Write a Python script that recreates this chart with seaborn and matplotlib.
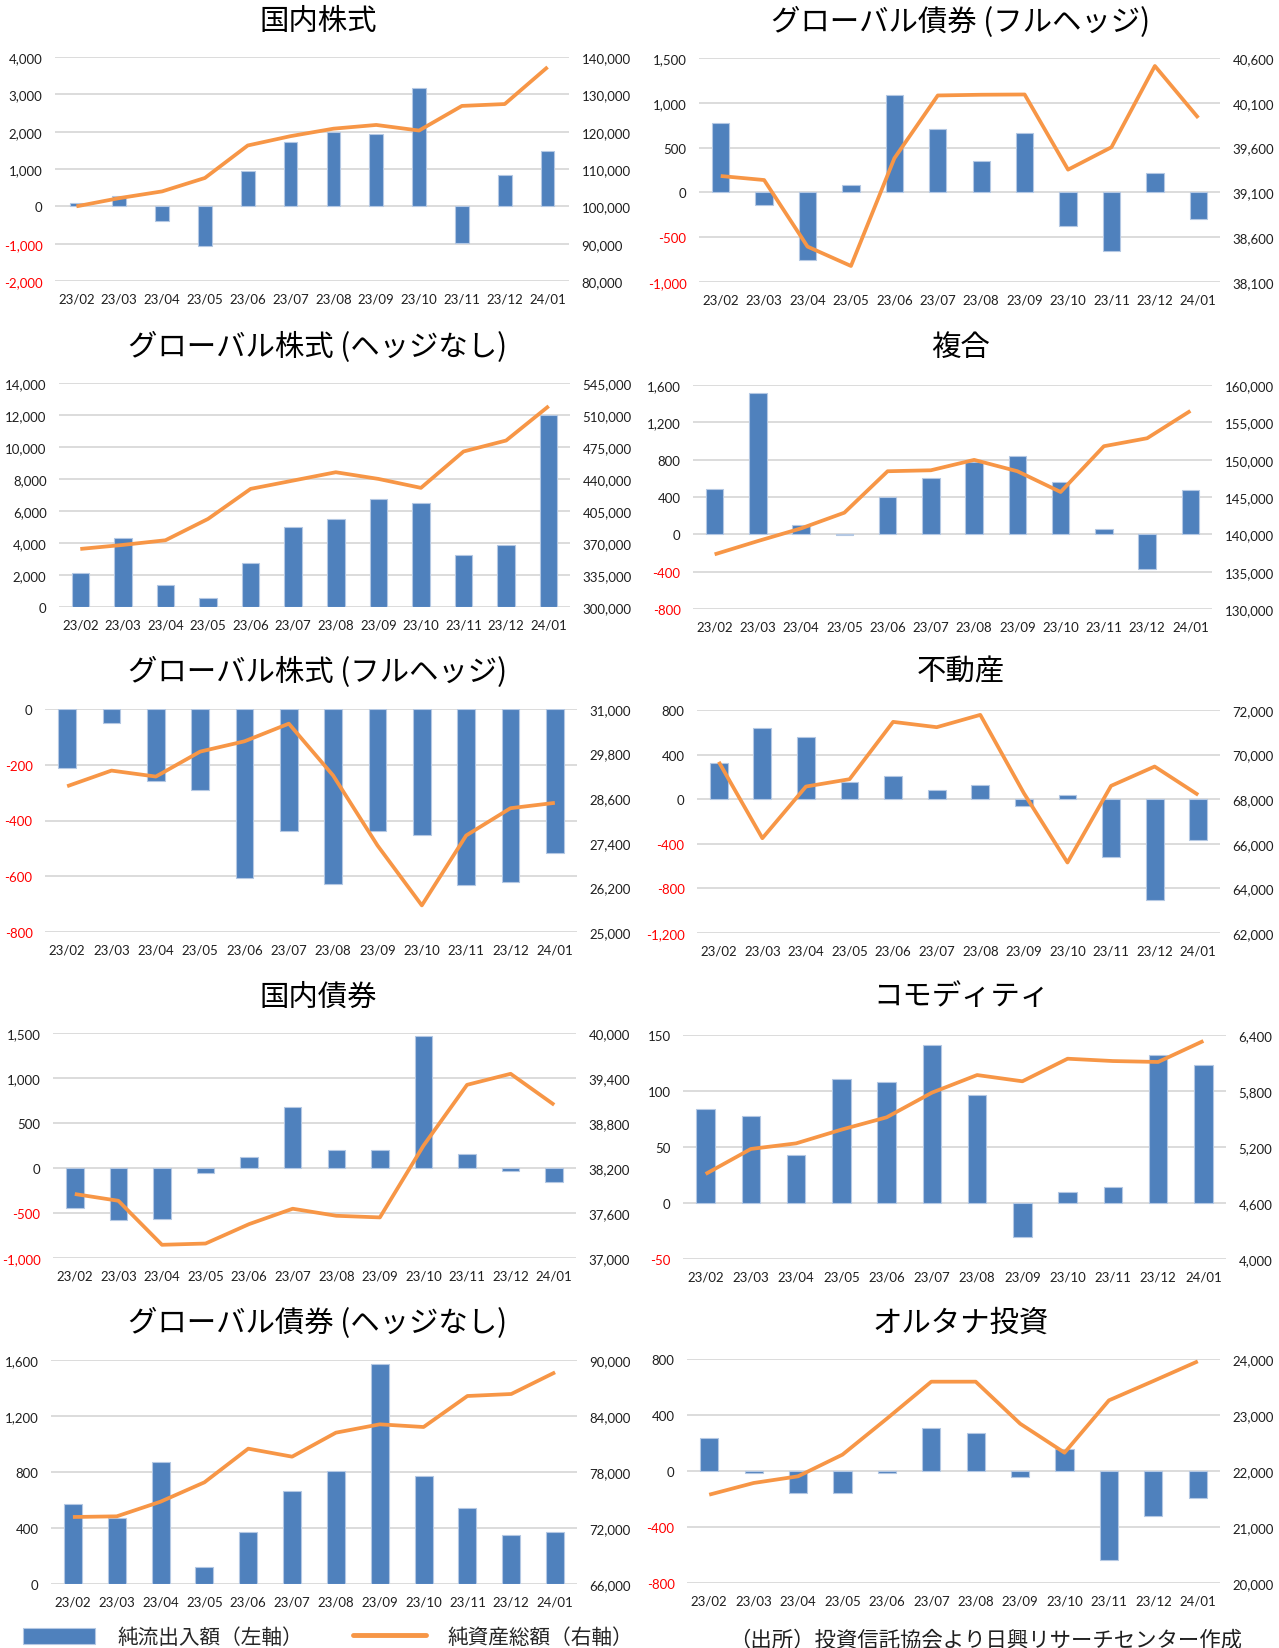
import numpy as np
import pandas as pd
import matplotlib
matplotlib.use("Agg")
import matplotlib.pyplot as plt
import seaborn as sns
from matplotlib.patches import Patch
from matplotlib.lines import Line2D

# ---------------- data ----------------
months = ["23/02", "23/03", "23/04", "23/05", "23/06", "23/07",
          "23/08", "23/09", "23/10", "23/11", "23/12", "24/01"]

title_jp_eq = "国内株式"
flow_jp_eq = [100, 280, -400, -1050, 950, 1730, 1980, 1930, 3160, -980, 830, 1480]
aum_jp_eq = [100000, 102200, 104000, 107600, 116300, 118800, 120800, 121800, 120300, 126900, 127400, 137300]
lt_jp_eq = [-2000, -1000, 0, 1000, 2000, 3000, 4000]
rt_jp_eq = [80000, 90000, 100000, 110000, 120000, 130000, 140000]

title_gb_fh = "グローバル債券 (フルヘッジ)"
flow_gb_fh = [770, -145, -760, 80, 1090, 710, 345, 660, -370, -650, 220, -300]
aum_gb_fh = [39283, 39238, 38495, 38279, 39481, 40182, 40190, 40193, 39354, 39604, 40511, 39932]
lt_gb_fh = [-1000, -500, 0, 500, 1000, 1500]
rt_gb_fh = [38100, 38600, 39100, 39600, 40100, 40600]

title_ge_nh = "グローバル株式 (ヘッジなし)"
flow_ge_nh = [2150, 4300, 1350, 580, 2780, 5000, 5500, 6730, 6500, 3230, 3900, 12030]
aum_ge_nh = [363500, 367900, 373000, 396350, 429200, 438300, 447400, 440100, 430300, 470100, 482100, 519700]
lt_ge_nh = [0, 2000, 4000, 6000, 8000, 10000, 12000, 14000]
rt_ge_nh = [300000, 335000, 370000, 405000, 440000, 475000, 510000, 545000]

title_mix = "複合"
flow_mix = [490, 1515, 100, -10, 400, 600, 770, 840, 560, 55, -370, 480]
aum_mix = [137320, 139100, 140800, 142900, 148450, 148580, 149970, 148450, 145670, 151800, 152870, 156530]
lt_mix = [-800, -400, 0, 400, 800, 1200, 1600]
rt_mix = [130000, 135000, 140000, 145000, 150000, 155000, 160000]

title_ge_fh = "グローバル株式 (フルヘッジ)"
flow_ge_fh = [-210, -50, -258, -290, -607, -436, -627, -436, -452, -632, -622, -518]
aum_ge_fh = [28922, 29343, 29182, 29854, 30131, 30606, 29209, 27328, 25716, 27597, 28331, 28475]
lt_ge_fh = [-800, -600, -400, -200, 0]
rt_ge_fh = [25000, 26200, 27400, 28600, 29800, 31000]

title_re = "不動産"
flow_re = [325, 640, 560, 150, 205, 85, 125, -60, 40, -520, -900, -365]
aum_re = [69674, 66251, 68568, 68897, 71468, 71229, 71782, 68269, 65160, 68598, 69465, 68194]
lt_re = [-1200, -800, -400, 0, 400, 800]
rt_re = [62000, 64000, 66000, 68000, 70000, 72000]

title_jp_bd = "国内債券"
flow_jp_bd = [-440, -575, -570, -50, 120, 680, 205, 205, 1465, 155, -30, -155]
aum_jp_bd = [37853, 37763, 37176, 37193, 37452, 37657, 37563, 37541, 38498, 39309, 39456, 39042]
lt_jp_bd = [-1000, -500, 0, 500, 1000, 1500]
rt_jp_bd = [37000, 37600, 38200, 38800, 39400, 40000]

title_cmd = "コモディティ"
flow_cmd = [84, 78, 43, 111, 108, 141, 96, -30, 9.5, 14.5, 132, 123]
aum_cmd = [4911, 5179, 5239, 5386, 5518, 5782, 5971, 5904, 6146, 6121, 6111, 6336]
lt_cmd = [-50, 0, 50, 100, 150]
rt_cmd = [4000, 4600, 5200, 5800, 6400]

title_gb_nh = "グローバル債券 (ヘッジなし)"
flow_gb_nh = [570, 475, 870, 125, 370, 665, 805, 1570, 775, 540, 350, 370]
aum_gb_nh = [73179, 73250, 74821, 76893, 80500, 79643, 82214, 83107, 82821, 86143, 86357, 88679]
lt_gb_nh = [0, 400, 800, 1200, 1600]
rt_gb_nh = [66000, 72000, 78000, 84000, 90000]

title_alt = "オルタナ投資"
flow_alt = [235, -15, -160, -160, -15, 310, 275, -40, 160, -635, -320, -190]
aum_alt = [21577, 21786, 21905, 22292, 22935, 23595, 23595, 22845, 22327, 23262, 23607, 23958]
lt_alt = [-800, -400, 0, 400, 800]
rt_alt = [20000, 21000, 22000, 23000, 24000]

legend_labels = ["純流出入額（左軸）", "純資産総額（右軸）"]
source_text = "（出所）投資信託協会より日興リサーチセンター作成"

# ---------------- style ----------------
BLUE = "#4F81BD"
EDGE = "#B4C8E3"
ORANGE = "#F79646"
GRID = "#D9D9D9"
TXT = "#1F1F1F"
W, H = 1279, 1649

sns.set_style("white")
plt.rcParams["font.family"] = ["Lato", "Noto Sans CJK JP", "DejaVu Sans"]
plt.rcParams["axes.unicode_minus"] = False

fig = plt.figure(figsize=(W / 100, H / 100), dpi=100)
fig.patch.set_facecolor("white")

JP = ["Noto Sans CJK JP", "DejaVu Sans"]


def draw(rect, title, title_x, title_y, flow, aum, lticks, rticks, bw):
    x0, y0, x1, y1 = rect
    ax = fig.add_axes([x0 / W, 1 - y1 / H, (x1 - x0) / W, (y1 - y0) / H])
    df = pd.DataFrame({"month": months, "flow": flow, "aum": aum,
                       "pos": np.arange(len(months))})
    sns.barplot(data=df, x="month", y="flow", ax=ax, color=BLUE, saturation=1,
                width=bw, edgecolor=EDGE, linewidth=0.8, zorder=2)
    ax.set_xlim(-0.5, len(months) - 0.5)
    ax.set_ylim(lticks[0], lticks[-1])
    ax.set_yticks(lticks)
    ax.set_yticklabels([f"{v:,}" for v in lticks])
    for lab, v in zip(ax.get_yticklabels(), lticks):
        lab.set_color("red" if v < 0 else TXT)
    ax.grid(axis="y", color=GRID, lw=1.3)
    ax.grid(axis="x", visible=False)
    ax.set_axisbelow(True)
    ax.tick_params(axis="y", length=0, pad=9, labelsize=9.5)
    ax.tick_params(axis="x", length=0, pad=8, labelsize=9.5, labelcolor=TXT)
    ax.set_xlabel("")
    ax.set_ylabel("")
    for s in ax.spines.values():
        s.set_visible(False)

    ax2 = ax.twinx()
    sns.lineplot(data=df, x="pos", y="aum", ax=ax2, color=ORANGE, lw=2.7,
                 solid_capstyle="butt", zorder=3)
    ax2.set_xlim(-0.5, len(months) - 0.5)
    ax2.set_ylim(rticks[0], rticks[-1])
    ax2.set_yticks(rticks)
    ax2.set_yticklabels([f"{v:,}" for v in rticks])
    ax2.tick_params(axis="y", length=0, pad=9, labelsize=9.5, labelcolor=TXT)
    ax2.set_xlabel("")
    ax2.set_ylabel("")
    ax2.grid(False)
    for s in ax2.spines.values():
        s.set_visible(False)

    fig.text(title_x / W, 1 - title_y / H, title, ha="center", va="center",
             fontsize=21.2, family=JP, color="black")


LX, RX = 318, 961
draw((55, 58, 569, 282), title_jp_eq, LX, 22, flow_jp_eq, aum_jp_eq, lt_jp_eq, rt_jp_eq, 0.32)
draw((699, 59, 1220, 283), title_gb_fh, RX, 22, flow_gb_fh, aum_gb_fh, lt_gb_fh, rt_gb_fh, 0.40)
draw((59, 384, 570, 608), title_ge_nh, LX, 347, flow_ge_nh, aum_ge_nh, lt_ge_nh, rt_ge_nh, 0.41)
draw((693, 386, 1212, 610), title_mix, RX, 347, flow_mix, aum_mix, lt_mix, rt_mix, 0.41)
draw((45, 710, 577, 933), title_ge_fh, LX, 672, flow_ge_fh, aum_ge_fh, lt_ge_fh, rt_ge_fh, 0.40)
draw((697, 711, 1220, 934), title_re, RX, 672, flow_re, aum_re, lt_re, rt_re, 0.41)
draw((53, 1034, 576, 1259), title_jp_bd, LX, 997, flow_jp_bd, aum_jp_bd, lt_jp_bd, rt_jp_bd, 0.40)
draw((683, 1036, 1226, 1260), title_cmd, RX, 997, flow_cmd, aum_cmd, lt_cmd, rt_cmd, 0.41)
draw((51, 1361, 577, 1585), title_gb_nh, LX, 1323, flow_gb_nh, aum_gb_nh, lt_gb_nh, rt_gb_nh, 0.41)
draw((687, 1360, 1220, 1584), title_alt, RX, 1323, flow_alt, aum_alt, lt_alt, rt_alt, 0.41)

# legend
handles = [Patch(facecolor=BLUE, edgecolor=EDGE, linewidth=0.8),
           Line2D([], [], color=ORANGE, lw=3.5)]
fig.legend(handles, legend_labels, loc="center left",
           bbox_to_anchor=(23 / W, 1 - 1638 / H), ncol=2, frameon=False,
           prop={"family": JP, "size": 14.9}, handlelength=3.5, handleheight=0.82,
           handletextpad=1.05, columnspacing=2.45, borderpad=0, borderaxespad=0)

fig.text(729 / W, 1 - 1641 / H, source_text, ha="left", va="center",
         fontsize=15.4, family=JP, color=TXT)

fig.savefig("out.png", dpi=100, facecolor="white")
